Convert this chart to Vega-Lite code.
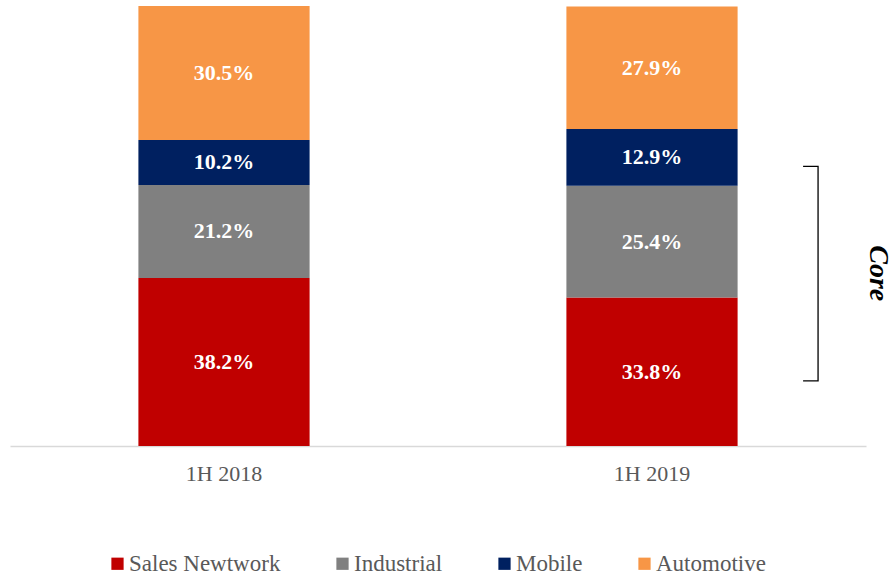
{
  "$schema": "https://vega.github.io/schema/vega-lite/v6.json",
  "autosize": "none",
  "width": 856,
  "height": 440,
  "padding": {"top": 6, "left": 10, "right": 28, "bottom": 130},
  "background": "white",
  "config": {
    "view": {"stroke": null},
    "font": "Liberation Serif",
    "legend": {"labelFont": "Liberation Serif"},
    "axis": {"labelFont": "Liberation Serif"}
  },
  "datasets": {
    "shares": [
      {"period": "1H 2018", "segment": "Sales Newtwork", "share": 0.382, "order": 1},
      {"period": "1H 2018", "segment": "Industrial", "share": 0.212, "order": 2},
      {"period": "1H 2018", "segment": "Mobile", "share": 0.102, "order": 3},
      {"period": "1H 2018", "segment": "Automotive", "share": 0.305, "order": 4},
      {"period": "1H 2019", "segment": "Sales Newtwork", "share": 0.338, "order": 1},
      {"period": "1H 2019", "segment": "Industrial", "share": 0.254, "order": 2},
      {"period": "1H 2019", "segment": "Mobile", "share": 0.129, "order": 3},
      {"period": "1H 2019", "segment": "Automotive", "share": 0.279, "order": 4}
    ],
    "bracket": [
      {"bx": 1.853, "by": 0.636, "o": 1},
      {"bx": 1.888, "by": 0.636, "o": 2},
      {"bx": 1.888, "by": 0.148, "o": 3},
      {"bx": 1.853, "by": 0.148, "o": 4}
    ],
    "note": [
      {"bx": 2.027, "by": 0.393, "t": "Core"}
    ]
  },
  "layer": [
    {
      "data": {"name": "shares"},
      "encoding": {
        "x": {
          "field": "period", "type": "nominal",
          "scale": {"paddingInner": 0.6, "paddingOuter": 0.3},
          "axis": {
            "title": null, "labelAngle": 0, "ticks": false, "labelPadding": 17,
            "labelFont": "Liberation Serif", "labelFontSize": 22, "labelColor": "#595959",
            "domainColor": "#d9d9d9", "domainWidth": 1.5
          }
        },
        "y": {
          "field": "share", "type": "quantitative", "stack": "zero",
          "scale": {"domain": [0, 1.001], "nice": false},
          "axis": null
        },
        "order": {"field": "order", "type": "quantitative", "sort": "ascending"}
      },
      "layer": [
        {
          "mark": {"type": "bar"},
          "encoding": {
            "color": {
              "field": "segment", "type": "nominal",
              "scale": {
                "domain": ["Sales Newtwork", "Industrial", "Mobile", "Automotive"],
                "range": ["#C00000", "#808080", "#002060", "#F79646"]
              },
              "legend": {
                "title": null, "orient": "none", "direction": "horizontal",
                "legendX": 96, "legendY": 546, "padding": 0,
                "symbolType": "square", "symbolSize": 150, "symbolStrokeWidth": 0,
                "labelFont": "Liberation Serif", "labelFontSize": 23, "labelColor": "#595959", "labelOffset": 0,
                "columnPadding": 50
              }
            }
          }
        },
        {
          "mark": {"type": "text", "color": "white", "fontWeight": "bold", "fontSize": 22, "baseline": "middle", "align": "center", "font": "Liberation Serif"},
          "encoding": {
            "y": {"field": "share", "type": "quantitative", "stack": "zero", "bandPosition": 0.5},
            "text": {"field": "share", "type": "quantitative", "format": ".1%"}
          }
        }
      ]
    },
    {
      "data": {"name": "bracket"},
      "mark": {"type": "line", "color": "black", "strokeWidth": 1.3, "interpolate": "linear"},
      "encoding": {
        "x": {"field": "bx", "type": "quantitative", "scale": {"domain": [0, 2], "nice": false, "zero": false}, "axis": null},
        "y": {"field": "by", "type": "quantitative"},
        "order": {"field": "o", "type": "quantitative"}
      }
    },
    {
      "data": {"name": "note"},
      "mark": {"type": "text", "angle": 90, "fontStyle": "italic", "fontWeight": "bold", "fontSize": 28, "align": "center", "baseline": "middle", "color": "black", "font": "Liberation Serif"},
      "encoding": {
        "x": {"field": "bx", "type": "quantitative", "scale": {"domain": [0, 2], "nice": false, "zero": false}, "axis": null},
        "y": {"field": "by", "type": "quantitative"},
        "text": {"field": "t"}
      }
    }
  ],
  "resolve": {"scale": {"x": "independent"}}
}
